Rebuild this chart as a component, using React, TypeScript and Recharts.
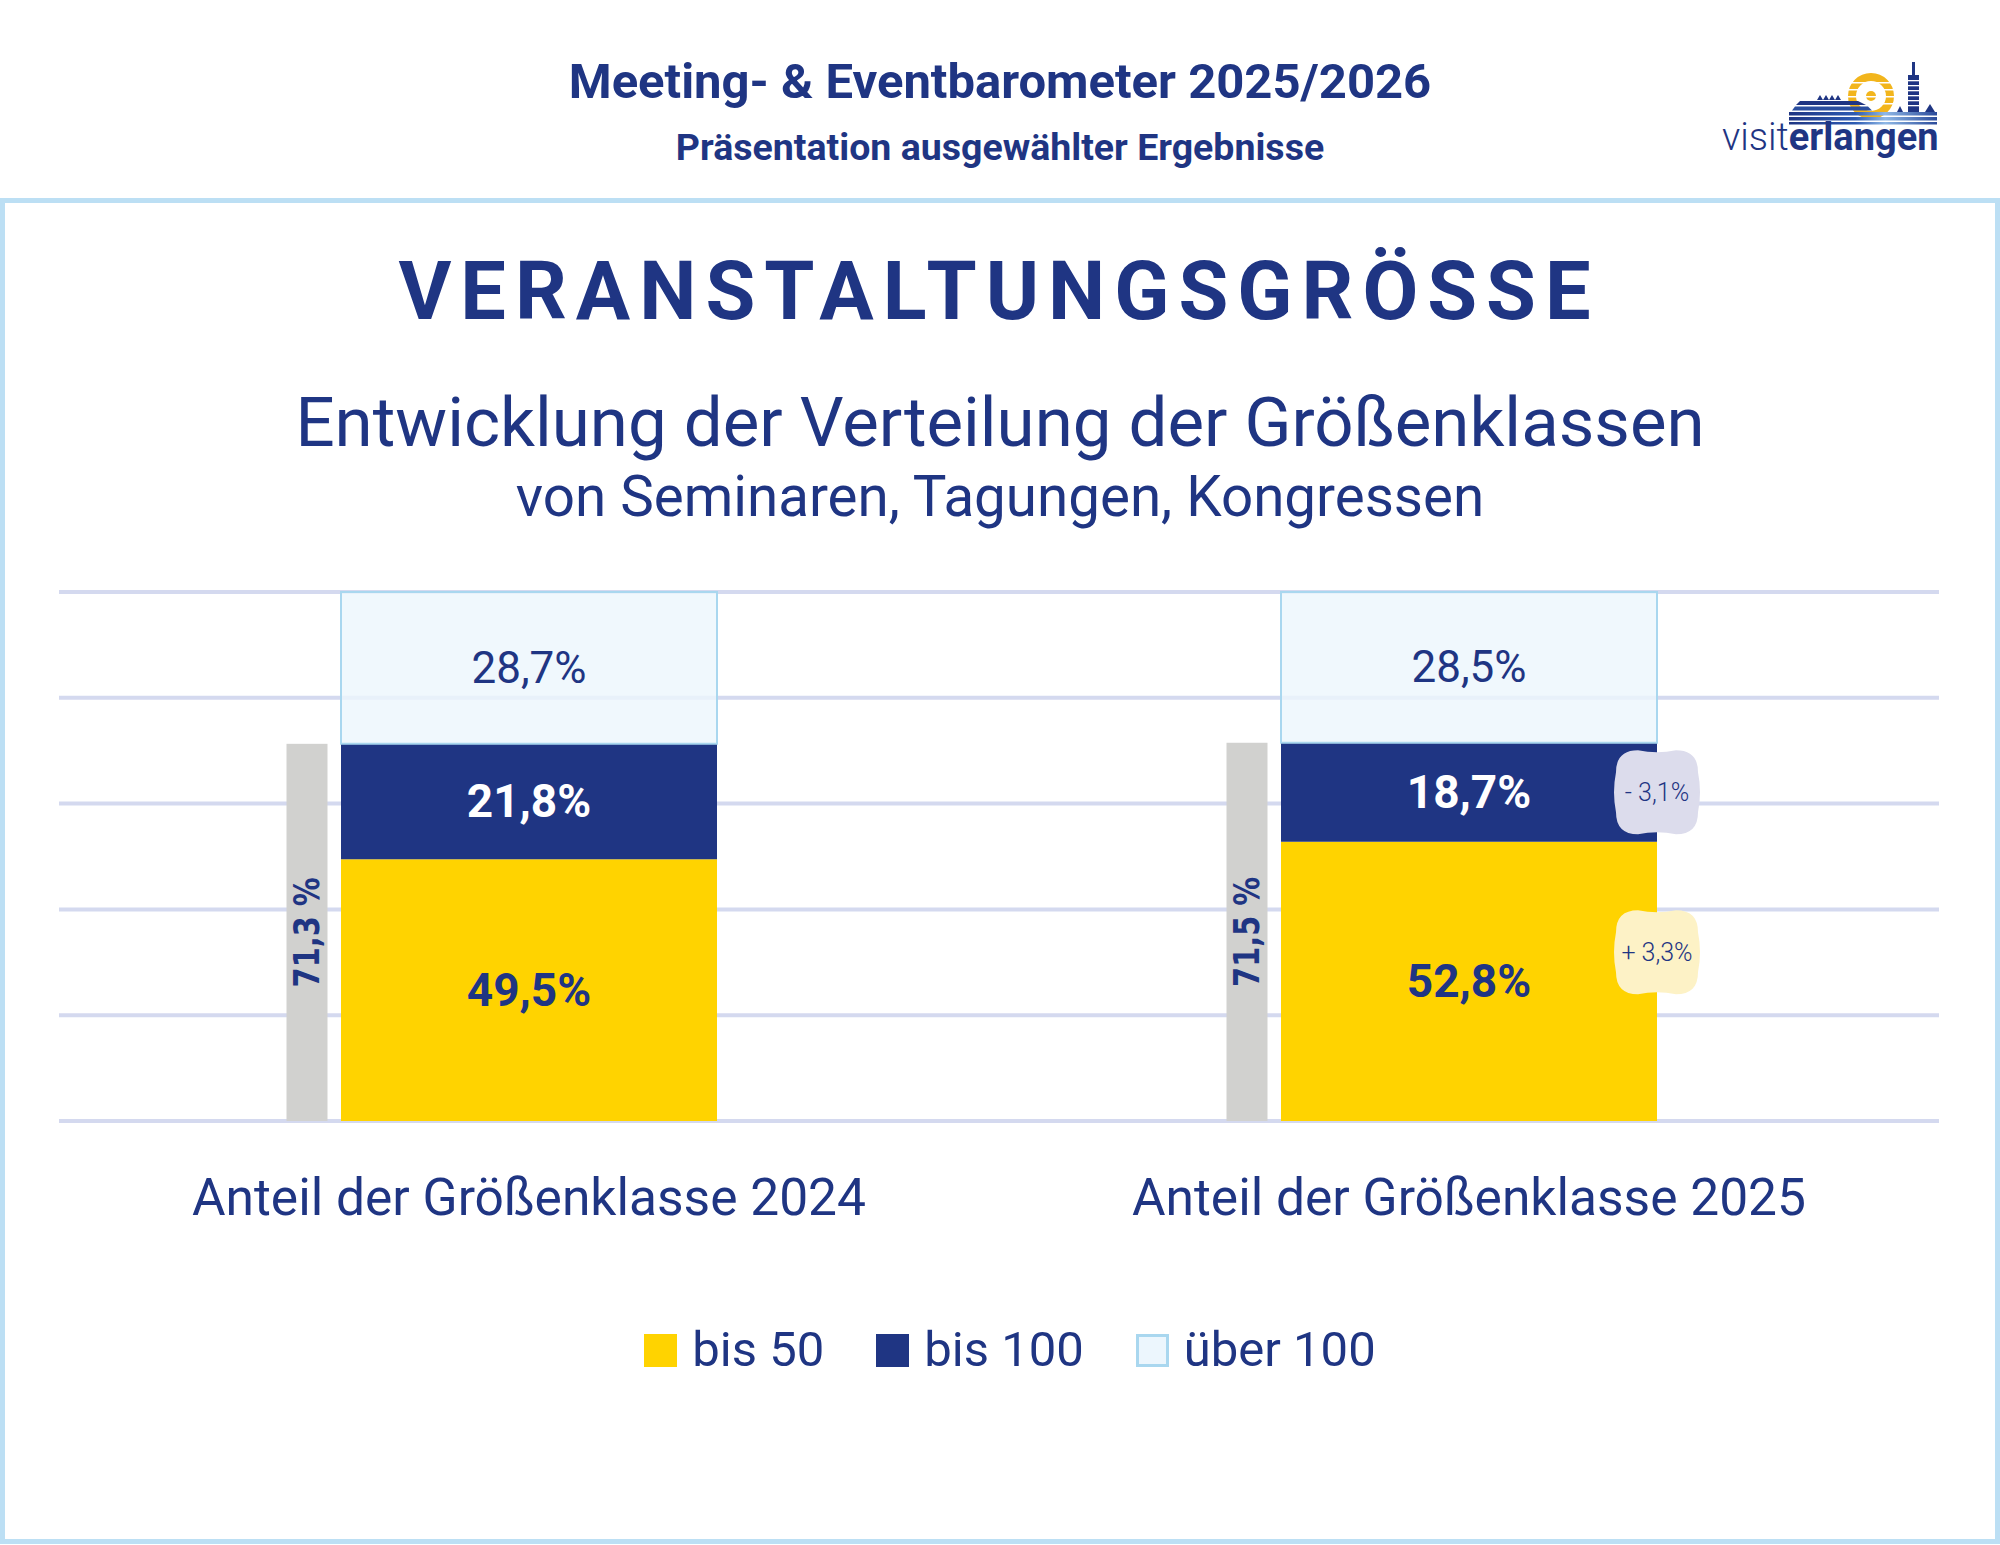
import React from 'react';
import { BarChart, Bar, XAxis, YAxis, CartesianGrid, LabelList, Legend } from 'recharts';

// ---------- data ----------
const categories = ['Anteil der Größenklasse 2024', 'Anteil der Größenklasse 2025'];
const bis50 = [49.5, 52.8];
const bis100 = [21.8, 18.7];
const ueber100 = [28.7, 28.5];
const totalBis100 = [71.3, 71.5];
const deltaBis50: (number | null)[] = [null, 3.3];
const deltaBis100: (number | null)[] = [null, -3.1];
const yTicks = [0, 20, 40, 60, 80, 100];
const seriesNames = ['bis 50', 'bis 100', 'über 100'];

const data = categories.map((name, i) => ({
  name,
  bis50: bis50[i],
  bis100: bis100[i],
  ueber100: ueber100[i],
  total: totalBis100[i],
}));

// ---------- style ----------
const FONT = "Roboto, 'Noto Sans', sans-serif";
const BLUE = '#1f3583';
const YELLOW = '#ffd300';
const LIGHT = '#ecf6fd';
const LIGHT_STROKE = '#a9d7ef';
const GRAY = '#d1d1cf';
const GRID = '#d4d9ef';
const FRAME = '#bcdff4';
const BUBBLE_LAV = '#dcdcec';
const BUBBLE_YEL = '#fdf2c6';
const SUN = '#f2b51c';

const MAIN_BAR = 376;
const SIDE_BAR = 41;
const SIDE_GAP = 14;
const SIDE_OFFSET = MAIN_BAR / 2 + SIDE_GAP + SIDE_BAR / 2;

const fmt = (v: number) => v.toFixed(1).replace('.', ',') + '%';
const fmtDelta = (v: number) => (v > 0 ? '+ ' : '- ') + Math.abs(v).toFixed(1).replace('.', ',') + '%';

const box = (props: any) => {
  const vb = props.viewBox && props.viewBox.width != null ? props.viewBox : props;
  return { x: Number(vb.x), y: Number(vb.y), width: Number(vb.width), height: Number(vb.height) };
};

const segLabel = (arr: number[], fill: string, weight: number, size: number) => (props: any) => {
  const { x, y, width, height } = box(props);
  const v = props.index != null ? arr[props.index] : props.value;
  if (v == null) return null;
  return (
    <text
      x={x + width / 2}
      y={y + height / 2}
      textAnchor="middle"
      dominantBaseline="central"
      fill={fill}
      fontWeight={weight}
      fontSize={size}
      fontFamily={FONT}
    >
      {fmt(v)}
    </text>
  );
};

const bubblePath = (cx: number, cy: number, w: number, h: number) => {
  const x0 = cx - w / 2, x1 = cx + w / 2, y0 = cy - h / 2, y1 = cy + h / 2;
  const r = 22;
  const b = 4;
  return [
    `M ${x0 + r} ${y0}`,
    `Q ${cx} ${y0 + b} ${x1 - r} ${y0}`,
    `Q ${x1} ${y0} ${x1} ${y0 + r}`,
    `Q ${x1 + b} ${cy} ${x1} ${y1 - r}`,
    `Q ${x1} ${y1} ${x1 - r} ${y1}`,
    `Q ${cx} ${y1 - b} ${x0 + r} ${y1}`,
    `Q ${x0} ${y1} ${x0} ${y1 - r}`,
    `Q ${x0 - b} ${cy} ${x0} ${y0 + r}`,
    `Q ${x0} ${y0} ${x0 + r} ${y0}`,
    'Z',
  ].join(' ');
};

const deltaLabel = (arr: (number | null)[], bg: string, dy: number) => (props: any) => {
  const { x, y, width, height } = box(props);
  const d = props.index != null ? arr[props.index] : null;
  if (d == null) return null;
  const cx = x + width;
  const cy = y + height / 2 + dy;
  return (
    <g>
      <path d={bubblePath(cx, cy, 82, 84)} fill={bg} />
      <text
        x={cx}
        y={cy}
        textAnchor="middle"
        dominantBaseline="central"
        fill={BLUE}
        fontSize={25}
        fontWeight={300}
        fontFamily={FONT}
      >
        {fmtDelta(d)}
      </text>
    </g>
  );
};

const SideShape = (props: any) => (
  <rect
    x={props.x - SIDE_OFFSET}
    y={props.y}
    width={props.width}
    height={props.height}
    fill={GRAY}
  />
);

const sideLabel = (props: any) => {
  const { x, y, width, height } = box(props);
  const v = props.index != null ? totalBis100[props.index] : props.value;
  if (v == null) return null;
  const cx = x - SIDE_OFFSET + width / 2;
  const cy = y + height / 2;
  const txt = v.toFixed(1).replace('.', ',') + ' %';
  return (
    <text
      x={cx}
      y={cy}
      transform={`rotate(-90 ${cx} ${cy})`}
      textAnchor="middle"
      dominantBaseline="central"
      fill={BLUE}
      fontSize={35}
      fontWeight={700}
      fontFamily="'DejaVu Sans', sans-serif"
      textLength={110}
      lengthAdjust="spacingAndGlyphs"
    >
      {txt}
    </text>
  );
};

const CategoryTick = (props: any) => {
  const { x, y, payload } = props;
  return (
    <text
      x={x}
      y={y + 86}
      textAnchor="middle"
      fill={BLUE}
      fontSize={51.5}
      fontFamily={FONT}
    >
      {payload.value}
    </text>
  );
};

const renderLegend = (props: any) => {
  const items = (props.payload || [])
    .filter((p: any) => p.type !== 'none' && seriesNames.indexOf(p.value) >= 0)
    .slice()
    .sort((a: any, b: any) => seriesNames.indexOf(a.value) - seriesNames.indexOf(b.value));
  return (
    <div style={{ display: 'flex', justifyContent: 'center', alignItems: 'center' }}>
      {items.map((p: any, i: number) => {
        const light = p.dataKey === 'ueber100';
        return (
          <div
            key={i}
            style={{ display: 'flex', alignItems: 'center', marginRight: i < items.length - 1 ? 52 : 0 }}
          >
            <span
              style={{
                display: 'inline-block',
                width: 33,
                height: 33,
                boxSizing: 'border-box',
                background: light ? LIGHT : p.color,
                border: light ? `3px solid ${LIGHT_STROKE}` : 'none',
                marginRight: 15,
              }}
            />
            <span style={{ fontSize: 49, color: BLUE, fontFamily: FONT, lineHeight: '60px' }}>{p.value}</span>
          </div>
        );
      })}
    </div>
  );
};

const Logo = () => (
  <g>
    <defs>
      <linearGradient id="stripeGrad" x1="0" x2="1" y1="0" y2="0">
        <stop offset="0" stopColor="#1f3583" />
        <stop offset="0.45" stopColor="#2d5bb3" />
        <stop offset="0.65" stopColor="#8fb8e6" />
        <stop offset="1" stopColor="#2a4a9a" />
      </linearGradient>
    </defs>
    {/* sun ring */}
    <circle cx={1871} cy={96} r={19} fill="none" stroke={SUN} strokeWidth={8} />
    <circle cx={1871} cy={96} r={5} fill={SUN} />
    {[82, 89, 96, 103].map((yy) => (
      <rect key={yy} x={1848} y={yy} width={46} height={1.5} fill="#fff" />
    ))}
    {/* dome stripes */}
    <polygon points="1800,101 1858,101 1866,105 1796,105" fill="#1f3583" />
    <polygon points="1795,106.5 1868,106.5 1872,110.5 1792,110.5" fill="#2a4e9f" />
    <rect x={1789} y={112} width={148} height={3.5} fill="url(#stripeGrad)" />
    <rect x={1789} y={117} width={148} height={3.5} fill="url(#stripeGrad)" />
    <rect x={1789} y={122} width={148} height={2.5} fill="url(#stripeGrad)" />
    {/* small roofs */}
    <polygon points="1817,100 1820,95 1823,100" fill={BLUE} />
    <polygon points="1823,100 1826,95 1829,100" fill={BLUE} />
    <polygon points="1829,100 1832,95 1835,100" fill={BLUE} />
    <polygon points="1835,100 1838,95 1841,100" fill={BLUE} />
    {/* tower */}
    <rect x={1912} y={62} width={3} height={14} fill={BLUE} />
    <rect x={1908} y={75} width={11} height={37} fill={BLUE} />
    {[80, 85, 90, 95, 100, 105].map((yy) => (
      <rect key={yy} x={1908} y={yy} width={11} height={1.3} fill="#fff" />
    ))}
    <polygon points="1897,112 1900,106 1903,112" fill={BLUE} />
    <polygon points="1925,112 1930,104 1935,112" fill={BLUE} />
    <text x={1722} y={150} fill={BLUE} fontSize={38} fontFamily={FONT}>
      <tspan fontWeight={300}>visit</tspan>
      <tspan fontWeight={700}>erlangen</tspan>
    </text>
  </g>
);

export default function App() {
  return (
    <div style={{ position: 'absolute', left: 0, top: 0, width: 2000, height: 1545, background: '#fff', overflow: 'hidden' }}>
      <svg width={2000} height={1545} style={{ position: 'absolute', left: 0, top: 0 }}>
        <rect x={2.5} y={200.5} width={1995} height={1341} fill="none" stroke={FRAME} strokeWidth={5} />
        <text x={1000} y={98} textAnchor="middle" fill={BLUE} fontSize={49} fontWeight={700} fontFamily={FONT}>
          Meeting- &amp; Eventbarometer 2025/2026
        </text>
        <text x={1000} y={160} textAnchor="middle" fill={BLUE} fontSize={37.5} fontWeight={700} fontFamily={FONT}>
          Präsentation ausgewählter Ergebnisse
        </text>
        <Logo />
        <text
          x={999}
          y={319}
          textAnchor="middle"
          fill={BLUE}
          fontSize={81}
          fontWeight={700}
          letterSpacing={9}
          fontFamily={FONT}
        >
          VERANSTALTUNGSGRÖSSE
        </text>
        <text x={1000} y={446} textAnchor="middle" fill={BLUE} fontSize={69} fontFamily={FONT}>
          Entwicklung der Verteilung der Größenklassen
        </text>
        <text x={1000} y={516} textAnchor="middle" fill={BLUE} fontSize={56.5} fontFamily={FONT}>
          von Seminaren, Tagungen, Kongressen
        </text>
      </svg>
      <div style={{ position: 'absolute', left: 0, top: 0 }}>
        <BarChart width={2000} height={1545} data={data} margin={{ top: 592, right: 61, left: 59, bottom: 304 }}>
          <CartesianGrid vertical={false} stroke={GRID} strokeWidth={4} />
          <YAxis hide domain={[0, 100]} ticks={yTicks} />
          <XAxis
            dataKey="name"
            axisLine={false}
            tickLine={false}
            interval={0}
            height={120}
            tick={<CategoryTick />}
          />
          <XAxis xAxisId="side" dataKey="name" hide />
          <Bar
            xAxisId="side"
            dataKey="total"
            barSize={SIDE_BAR}
            fill={GRAY}
            legendType="none"
            isAnimationActive={false}
            shape={<SideShape />}
          >
            <LabelList dataKey="total" content={sideLabel} />
          </Bar>
          <Bar dataKey="bis50" name={seriesNames[0]} stackId="s" barSize={MAIN_BAR} fill={YELLOW} isAnimationActive={false}>
            <LabelList dataKey="bis50" content={segLabel(bis50, BLUE, 700, 46)} />
            <LabelList dataKey="bis50" content={deltaLabel(deltaBis50, BUBBLE_YEL, -29)} />
          </Bar>
          <Bar dataKey="bis100" name={seriesNames[1]} stackId="s" barSize={MAIN_BAR} fill={BLUE} isAnimationActive={false}>
            <LabelList dataKey="bis100" content={segLabel(bis100, '#ffffff', 700, 46)} />
            <LabelList dataKey="bis100" content={deltaLabel(deltaBis100, BUBBLE_LAV, 0)} />
          </Bar>
          <Bar
            dataKey="ueber100"
            name={seriesNames[2]}
            stackId="s"
            barSize={MAIN_BAR}
            fill={LIGHT}
            fillOpacity={0.8}
            stroke={LIGHT_STROKE}
            strokeWidth={2}
            isAnimationActive={false}
          >
            <LabelList dataKey="ueber100" content={segLabel(ueber100, BLUE, 400, 44)} />
          </Bar>
          <Legend
            layout="horizontal"
            verticalAlign="middle"
            align="center"
            itemSorter={null as any}
            wrapperStyle={{ top: 1320, left: 0, width: 2020 }}
            content={renderLegend}
          />
        </BarChart>
      </div>
    </div>
  );
}
